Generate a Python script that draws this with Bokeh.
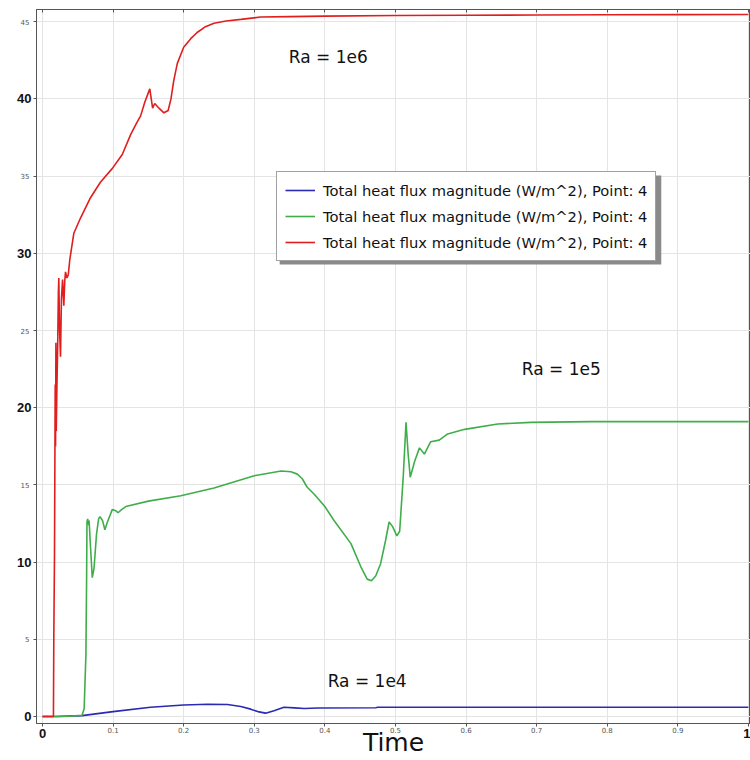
from bokeh.plotting import figure
from bokeh.models import (Range1d, LinearAxis, FixedTicker, Legend, LegendItem,
                          Label, BoxAnnotation)
from bokeh.embed import file_html
from bokeh.resources import INLINE

# ---------------- data ----------------
x_ticks = [0, 0.1, 0.2, 0.3, 0.4, 0.5, 0.6, 0.7, 0.8, 0.9, 1]
y_ticks = [0, 5, 10, 15, 20, 25, 30, 35, 40, 45]
x_big_ticks = [0, 1]
y_big_ticks = [0, 10, 20, 30, 40]

legend_label = "Total heat flux magnitude (W/m^2), Point: 4"
ra_labels = ["Ra = 1e4", "Ra = 1e5", "Ra = 1e6"]
ra_label_t = [0.404, 0.679, 0.349]
ra_label_q = [2.33, 22.5, 42.7]

blue_t = [0, 0.02, 0.056, 0.1, 0.153, 0.2, 0.234, 0.262, 0.281, 0.295, 0.305,
          0.316, 0.328, 0.342, 0.357, 0.371, 0.39, 0.472, 0.475, 0.6, 0.8, 1.0]
blue_q = [0, 0, 0.06, 0.32, 0.6, 0.75, 0.8, 0.78, 0.65, 0.48, 0.32,
          0.22, 0.38, 0.6, 0.56, 0.52, 0.55, 0.57, 0.6, 0.6, 0.6, 0.6]

green_t = [0, 0.02, 0.04, 0.056, 0.059, 0.0615, 0.0625, 0.063, 0.064, 0.0655,
           0.066, 0.068, 0.0705, 0.073, 0.0765, 0.0795, 0.0813, 0.085, 0.0884,
           0.092, 0.0988, 0.103, 0.107, 0.112, 0.118, 0.15, 0.196, 0.243, 0.3,
           0.338, 0.352, 0.361, 0.368, 0.375, 0.385, 0.40, 0.413, 0.437, 0.451,
           0.46, 0.466, 0.472, 0.479, 0.486, 0.491, 0.496, 0.502, 0.506, 0.511,
           0.515, 0.518, 0.521, 0.527, 0.534, 0.541, 0.550, 0.562, 0.574, 0.598,
           0.645, 0.692, 0.777, 0.9, 1.0]
green_q = [0, 0, 0.03, 0.08, 0.5, 4, 9, 12.6, 12.8, 12.4,
           12.7, 11, 9.0, 9.6, 11.8, 12.8, 12.95, 12.7, 12.1,
           12.6, 13.4, 13.35, 13.2, 13.4, 13.6, 13.95, 14.3, 14.8, 15.6,
           15.9, 15.85, 15.7, 15.4, 14.85, 14.4, 13.6, 12.7, 11.2, 9.7,
           8.9, 8.8, 9.1, 9.9, 11.4, 12.6, 12.3, 11.7, 12.0, 15.5,
           19.06, 17.0, 15.5, 16.5, 17.4, 17.0, 17.8, 17.9, 18.3, 18.6,
           18.95, 19.05, 19.1, 19.1, 19.1]

red_t = [0, 0.0155, 0.016, 0.017, 0.0175, 0.018, 0.0185, 0.019, 0.0195, 0.0205,
         0.0215, 0.0225, 0.0231, 0.0242, 0.0255, 0.0268, 0.0284, 0.0302, 0.0315,
         0.0326, 0.0345, 0.0365, 0.0387, 0.0444, 0.054, 0.068, 0.082, 0.099,
         0.113, 0.125, 0.134, 0.139, 0.145, 0.152, 0.156, 0.159, 0.165, 0.172,
         0.178, 0.182, 0.186, 0.191, 0.2, 0.21, 0.219, 0.23, 0.243, 0.26, 0.281,
         0.309, 0.35, 0.4, 0.5, 0.6, 0.7, 0.8, 0.9, 1.0]
red_q = [0, 0, 5, 10.5, 16, 21.5, 17.5, 24.2, 18.5, 21.6,
         24, 27.5, 28.4, 25, 23.3, 27, 28.3, 26.6, 28.2,
         28.8, 28.4, 28.6, 29.6, 31.3, 32.3, 33.6, 34.6, 35.5,
         36.4, 37.7, 38.5, 38.9, 39.8, 40.65, 39.4, 39.7, 39.4, 39.1,
         39.25, 40.0, 41.2, 42.3, 43.35, 43.9, 44.3, 44.65, 44.9, 45.05, 45.15,
         45.3, 45.33, 45.36, 45.4, 45.42, 45.43, 45.45, 45.46, 45.47]

series_t = [blue_t, green_t, red_t]
series_q = [blue_q, green_q, red_q]
series_colors = ["#2a2ab2", "#3fae4a", "#e01e1e"]

# ---------------- figure ----------------
AX = "#555555"
p = figure(width=750, height=760, output_backend="svg", toolbar_location=None,
           x_range=Range1d(-0.0085, 1.003), y_range=Range1d(-0.45, 45.79),
           min_border_left=36, min_border_right=0, min_border_top=9,
           min_border_bottom=37)
p.background_fill_color = "white"
p.border_fill_color = "white"
p.outline_line_color = AX
p.outline_line_width = 1

small_x = {t: ("" if t in x_big_ticks else str(t)) for t in x_ticks}
big_x = {t: (str(t) if t in x_big_ticks else "") for t in x_ticks}
small_y = {t: ("" if t in y_big_ticks else str(t)) for t in y_ticks}
big_y = {t: (str(t) if t in y_big_ticks else "") for t in y_ticks}

# inner axes: big bold labels + ticks
xa = p.xaxis[0]
xa.ticker = FixedTicker(ticks=x_ticks)
xa.major_label_overrides = big_x
ya = p.yaxis[0]
ya.ticker = FixedTicker(ticks=y_ticks)
ya.major_label_overrides = big_y
for ax in (xa, ya):
    ax.minor_tick_line_color = None
    ax.major_tick_out = 3
    ax.major_tick_in = 0
    ax.major_tick_line_color = AX
    ax.axis_line_color = AX
    ax.major_label_text_font = "Liberation Sans"
    ax.major_label_text_font_style = "bold"
    ax.major_label_text_font_size = "13px"
    ax.major_label_text_color = "#111111"
    ax.major_label_standoff = 2
xa.axis_label = "Time"
xa.axis_label_text_font = "DejaVu Sans"
xa.axis_label_text_font_size = "25px"
xa.axis_label_text_font_style = "normal"
xa.axis_label_text_color = "#111111"
xa.axis_label_standoff = -13

# outer axes: small grey labels pulled back next to the frame
xs = LinearAxis(ticker=FixedTicker(ticks=x_ticks), major_label_overrides=small_x,
                major_tick_line_color=None, minor_tick_line_color=None,
                axis_line_color=None, major_tick_out=0, major_tick_in=0,
                major_label_text_font="DejaVu Sans", major_label_text_font_size="7px",
                major_label_text_color="#555555", major_label_standoff=-33)
p.add_layout(xs, "below")
ys = LinearAxis(ticker=FixedTicker(ticks=y_ticks), major_label_overrides=small_y,
                major_tick_line_color=None, minor_tick_line_color=None,
                axis_line_color=None, major_tick_out=0, major_tick_in=0,
                major_label_text_font="DejaVu Sans", major_label_text_font_size="7px",
                major_label_text_color="#555555", major_label_standoff=-15)
p.add_layout(ys, "left")

top = LinearAxis(ticker=FixedTicker(ticks=x_ticks), major_label_text_font_size="0px",
                 major_label_standoff=0, major_tick_in=3, major_tick_out=0,
                 minor_tick_line_color=None, axis_line_color=AX,
                 major_tick_line_color=AX,
                 major_label_overrides={t: "" for t in x_ticks})
p.add_layout(top, "above")

p.xgrid.ticker = FixedTicker(ticks=x_ticks)
p.ygrid.ticker = FixedTicker(ticks=y_ticks)
p.grid.grid_line_color = "#e4e4e4"
p.grid.grid_line_width = 1

renderers = []
for t, q, c in zip(series_t, series_q, series_colors):
    r = p.line(t, q, line_color=c, line_width=1.6)
    renderers.append(r)

for txt, t, q in zip(ra_labels, ra_label_t, ra_label_q):
    p.add_layout(Label(x=t, y=q, text=txt, text_align="left", text_baseline="middle",
                       text_font="DejaVu Sans", text_font_size="17px",
                       text_color="#111111"))

# legend shadow + legend
p.add_layout(BoxAnnotation(left=0.336, right=0.8766, bottom=29.27, top=35.04,
                           fill_color="#8a8a8a", fill_alpha=1.0, line_alpha=0))
legend = Legend(items=[LegendItem(label=legend_label, renderers=[r]) for r in renderers],
                location=(240, 462), padding=8, spacing=6, label_height=20,
                glyph_height=20, glyph_width=30, label_standoff=8, margin=0,
                border_line_color="#444444", border_line_width=1.5,
                background_fill_color="white", background_fill_alpha=1.0,
                label_text_font="DejaVu Sans", label_text_font_size="14.7px",
                label_text_color="#111111")
p.add_layout(legend)

open("out.html", "w").write(file_html(p, INLINE))
